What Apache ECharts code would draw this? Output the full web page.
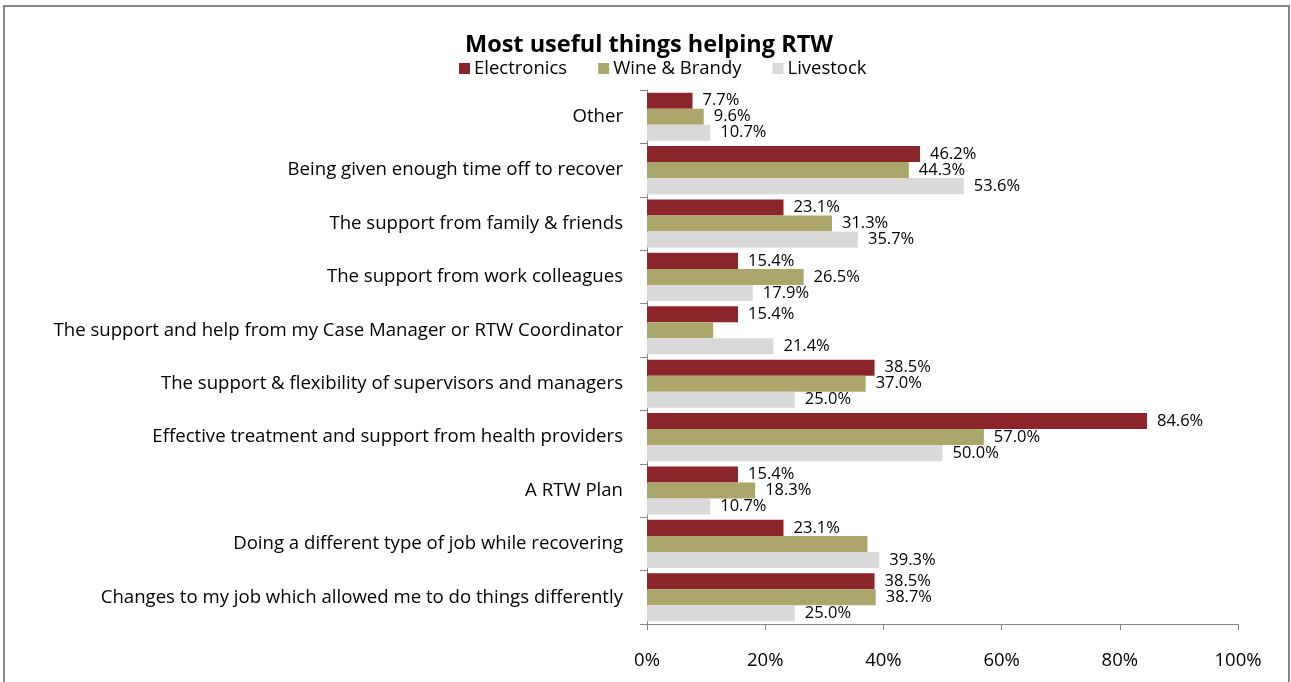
<!DOCTYPE html>
<html>
<head>
<meta charset="utf-8">
<script src="https://cdn.jsdelivr.net/npm/echarts@6/dist/echarts.min.js"></script>
<style>
  html, body { margin: 0; padding: 0; background: #fff; }
  #chart { width: 1291px; height: 682px; }
</style>
</head>
<body>
<div id="chart"></div>
<script>
// Categories listed top to bottom
const categories = [
  'Other',
  'Being given enough time off to recover',
  'The support from family & friends',
  'The support from work colleagues',
  'The support and help from my Case Manager or RTW Coordinator',
  'The support & flexibility of supervisors and managers',
  'Effective treatment and support from health providers',
  'A RTW Plan',
  'Doing a different type of job while recovering',
  'Changes to my job which allowed me to do things differently'
];

const electronics = [7.7, 46.2, 23.1, 15.4, 15.4, 38.5, 84.6, 15.4, 23.1, 38.5];
const wineBrandy  = [9.6, 44.3, 31.3, 26.5, 11.2, 37.0, 57.0, 18.3, 37.3, 38.7];
const livestock   = [10.7, 53.6, 35.7, 17.9, 21.4, 25.0, 50.0, 10.7, 39.3, 25.0];

// Values that carry no printed label
const wineUnlabeled = [4, 8];

const xTicks = [0, 20, 40, 60, 80, 100];

const chart = echarts.init(document.getElementById('chart'));

const labelStyle = {
  show: true,
  position: 'right',
  distance: 10,
  color: '#000',
  fontSize: 16.5,
  fontFamily: 'Open Sans',
  formatter: p => p.value.toFixed(1) + '%'
};

function toItems(values, hidden) {
  return values.map((v, i) => hidden && hidden.includes(i)
    ? { value: v, label: { show: false } }
    : v);
}

chart.setOption({
  animation: false,
  textStyle: { fontFamily: 'Open Sans' },
  title: {
    text: 'Most useful things helping RTW',
    left: 644,
    textAlign: 'center',
    top: 28,
    textStyle: { fontSize: 23.5, fontWeight: 'bold', color: '#000', fontFamily: 'Open Sans' }
  },
  legend: {
    top: 54,
    left: 454,
    itemWidth: 11,
    itemHeight: 11,
    itemGap: 31,
    icon: 'rect',
    textStyle: { fontSize: 18.5, color: '#000', padding: [0, 0, 0, -1] },
    data: ['Electronics', 'Wine & Brandy', 'Livestock']
  },
  graphic: [{
    type: 'rect',
    shape: { x: 4, y: 6, width: 1285, height: 690 },
    style: { fill: 'none', stroke: '#868686', lineWidth: 2 },
    silent: true
  }],
  grid: { left: 647, right: 53, top: 90, bottom: 58, containLabel: false },
  xAxis: {
    type: 'value',
    min: 0,
    max: 100,
    interval: 20,
    axisLine: { show: true, lineStyle: { color: '#868686' } },
    axisTick: { show: true, length: 6, lineStyle: { color: '#868686' } },
    splitLine: { show: false },
    axisLabel: {
      color: '#000',
      fontSize: 18.5,
      margin: 27,
      formatter: v => xTicks.includes(v) ? v + '%' : ''
    }
  },
  yAxis: {
    type: 'category',
    inverse: true,
    data: categories,
    axisLine: { show: true, lineStyle: { color: '#868686' } },
    axisTick: { show: true, length: 7, lineStyle: { color: '#868686' } },
    axisLabel: { color: '#000', fontSize: 18.6, margin: 24 }
  },
  series: [
    {
      name: 'Electronics', type: 'bar', data: toItems(electronics),
      itemStyle: { color: '#8B252B' }, barGap: '0%', barCategoryGap: '10%',
      label: labelStyle
    },
    {
      name: 'Wine & Brandy', type: 'bar', data: toItems(wineBrandy, wineUnlabeled),
      itemStyle: { color: '#ABA76B' }, barGap: '0%', barCategoryGap: '10%',
      label: labelStyle
    },
    {
      name: 'Livestock', type: 'bar', data: toItems(livestock),
      itemStyle: { color: '#D9D9D9' }, barGap: '0%', barCategoryGap: '10%',
      label: labelStyle
    }
  ]
});
</script>
</body>
</html>
